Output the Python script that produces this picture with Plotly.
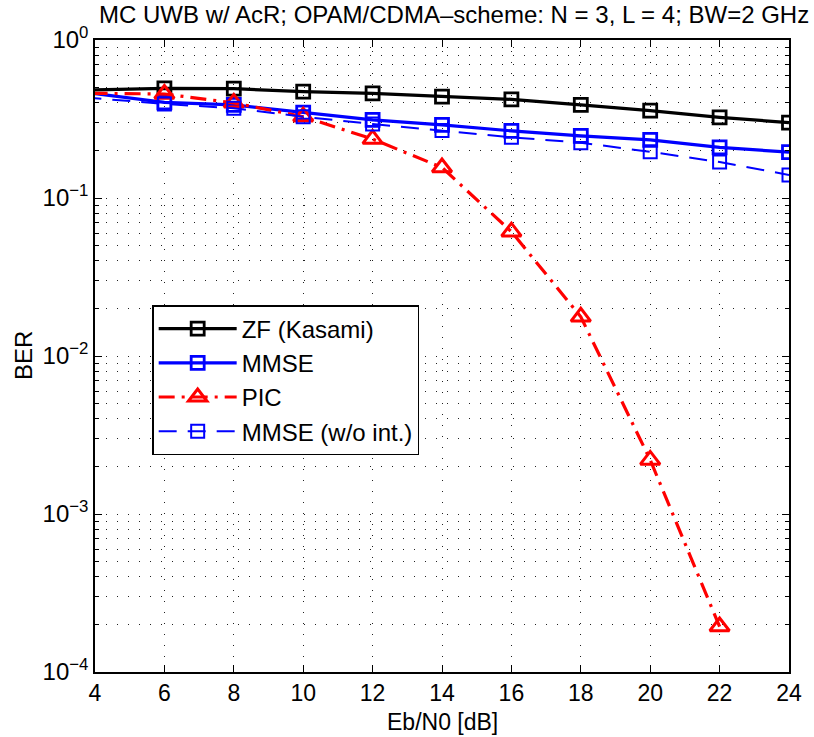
import plotly.graph_objects as go

# Eb/N0 [dB]; first point (2 dB) lies left of the visible range (curves enter from the left edge)
ebn0 = [2, 6, 8, 10, 12, 14, 16, 18, 20, 22, 24]
ber_zf = [0.472, 0.494, 0.492, 0.471, 0.459, 0.438, 0.421, 0.388, 0.357, 0.324, 0.300]
ber_mmse = [0.520, 0.403, 0.388, 0.347, 0.312, 0.290, 0.266, 0.247, 0.233, 0.209, 0.195]
ber_pic = [0.465, 0.455, 0.400, 0.327, 0.236, 0.156, 0.0612, 0.0177, 0.0022, 0.000194]
ebn0_pic = ebn0[:10]
ber_mmse_noint = [0.465, 0.394, 0.370, 0.327, 0.294, 0.267, 0.242, 0.224, 0.196, 0.169, 0.140]

names = ["ZF (Kasami)", "MMSE", "PIC", "MMSE (w/o int.)"]
x_ticks = list(range(4, 25, 2))
y_tickvals = [1e-4, 1e-3, 1e-2, 1e-1, 1]
y_ticktext = ["10<sup>\u22124</sup>", "10<sup>\u22123</sup>", "10<sup>\u22122</sup>",
              "10<sup>\u22121</sup>", "10<sup>0</sup>"]

FONT = "Liberation Sans, Arial, Helvetica, sans-serif"

fig = go.Figure()
fig.add_trace(go.Scatter(x=ebn0, y=ber_zf, name=names[0], mode="lines+markers",
                         line=dict(color="#000000", width=3.2),
                         marker=dict(symbol="square-open", size=13, color="#000000",
                                     line=dict(width=2.8, color="#000000"))))
fig.add_trace(go.Scatter(x=ebn0, y=ber_mmse, name=names[1], mode="lines+markers",
                         line=dict(color="#0000ff", width=3.2),
                         marker=dict(symbol="square-open", size=13, color="#0000ff",
                                     line=dict(width=2.8, color="#0000ff"))))
fig.add_trace(go.Scatter(x=ebn0_pic, y=ber_pic, name=names[2], mode="lines+markers",
                         line=dict(color="#ff0000", width=3.2, dash="16px,7px,3px,7px"),
                         marker=dict(symbol="triangle-up-open", size=17, color="#ff0000",
                                     line=dict(width=3, color="#ff0000"))))
fig.add_trace(go.Scatter(x=ebn0, y=ber_mmse_noint, name=names[3], mode="lines+markers",
                         line=dict(color="#0000ff", width=2, dash="18px,11px"),
                         marker=dict(symbol="square-open", size=13, color="#0000ff",
                                     line=dict(width=2, color="#0000ff"))))

grid_dash = "1px,10px"
fig.update_layout(
    width=814, height=737,
    margin=dict(l=95, r=15, t=40, b=65),
    paper_bgcolor="white", plot_bgcolor="white",
    font=dict(family=FONT, size=24, color="black"),
    showlegend=True,
    legend=dict(x=(153 - 95) / 704, y=(672 - 305) / 632, xanchor="left", yanchor="top",
                bgcolor="white", bordercolor="black", borderwidth=1.5,
                font=dict(size=24), tracegroupgap=0, itemwidth=78),
    annotations=[
        dict(text="MC UWB w/ AcR; OPAM/CDMA\u2013scheme: N = 3, L = 4; BW=2 GHz",
             xref="paper", yref="paper", x=(459 - 95) / 704, y=1 + (40 - 14) / 632,
             xanchor="center", yanchor="middle", showarrow=False, font=dict(size=24)),
        dict(text="BER", xref="paper", yref="paper", x=(22 - 95) / 704, y=(672 - 356) / 632,
             xanchor="center", yanchor="middle", textangle=-90, showarrow=False,
             font=dict(size=24)),
        dict(text="Eb/N0 [dB]", xref="paper", yref="paper", x=0.5, y=-(722 - 672) / 632,
             xanchor="center", yanchor="middle", showarrow=False, font=dict(size=23)),
    ],
)
fig.update_xaxes(range=[4, 24], tickvals=x_ticks, ticks="inside", ticklen=7, tickwidth=1.2,
                 tickcolor="black", showline=True, linecolor="black", linewidth=1.5,
                 mirror="ticks", showgrid=True, gridcolor="#222222", gridwidth=1,
                 griddash=grid_dash, zeroline=False, tickfont=dict(size=23),
                 ticklabelstandoff=0)
fig.update_yaxes(type="log", range=[-4, 0], tickvals=y_tickvals, ticktext=y_ticktext,
                 ticks="inside", ticklen=7, tickwidth=1.2, tickcolor="black",
                 showline=True, linecolor="black", linewidth=1.5, mirror="ticks",
                 showgrid=True, gridcolor="#222222", gridwidth=1, griddash=grid_dash,
                 zeroline=False, tickfont=dict(size=24),
                 minor=dict(dtick="D1", ticks="inside", ticklen=4, tickcolor="black",
                            showgrid=True, gridcolor="#222222", gridwidth=1,
                            griddash=grid_dash))

fig.write_html("out.html")
